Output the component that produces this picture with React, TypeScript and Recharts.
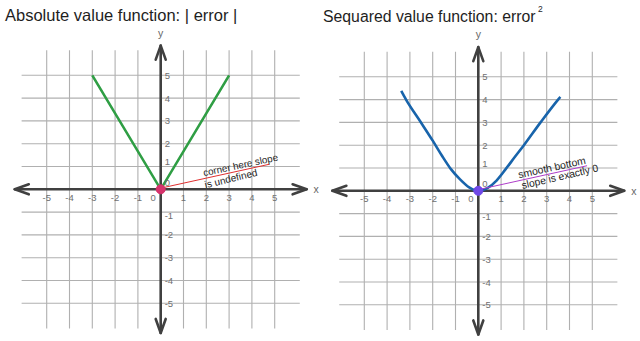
import React from 'react';
import { ComposedChart, Line, XAxis, YAxis, ReferenceLine, ReferenceDot } from 'recharts';

// tick values on both axes
const xTicks = [-5, -4, -3, -2, -1, 0, 1, 2, 3, 4, 5];
const yTicks = [-5, -4, -3, -2, -1, 0, 1, 2, 3, 4, 5];

// |error|
const absX = [-3, 0, 3];
const absY = [5, 0, 5];

// error^2 (hand drawn curve)
const sqX = [-3.38, -3.17, -2.55, -2, -1.6, -1.2, -0.8, -0.4, 0, 0.4, 0.8, 1.2, 1.6, 2, 2.73, 3.5, 3.6];
const sqY = [4.38, 4, 3.05, 2.2, 1.55, 0.95, 0.5, 0.15, 0, 0.12, 0.45, 0.95, 1.48, 2, 3, 4, 4.12];

const absData = absX.map((x, i) => ({ x, y: absY[i] }));
const sqData = sqX.map((x, i) => ({ x, y: sqY[i] }));

const UNIT = 22.8;
const W = 320;
const H = 341;
const FONT = '"Liberation Sans", Arial, sans-serif';
const GRID = '#b0b0b0';
const AXIS = '#404040';
const TICK = '#707070';

const ArrowAxis = (p: any) => {
  const { x1, y1, x2, y2 } = p;
  const dx = x2 - x1;
  const dy = y2 - y1;
  const len = Math.hypot(dx, dy) || 1;
  const ux = dx / len;
  const uy = dy / len;
  const px = -uy;
  const py = ux;
  const L = 14;
  const hw = 5;
  const head = (tx: number, ty: number, s: number) =>
    `M${tx - s * ux * L + px * hw},${ty - s * uy * L + py * hw} L${tx},${ty} L${tx - s * ux * L - px * hw},${ty - s * uy * L - py * hw}`;
  return (
    <g stroke={AXIS} strokeWidth={2.6} fill="none" strokeLinecap="round" strokeLinejoin="round">
      <line x1={x1} y1={y1} x2={x2} y2={y2} />
      <path d={head(x2, y2, 1)} />
      <path d={head(x1, y1, -1)} />
    </g>
  );
};

const textShape =
  (text: string, opts: { dx?: number; dy?: number; anchor?: string; size?: number; fill?: string; angle?: number }) =>
  (p: any) => {
    const x = p.cx + (opts.dx || 0);
    const y = p.cy + (opts.dy || 0);
    return (
      <text
        x={x}
        y={y}
        textAnchor={opts.anchor || 'middle'}
        dominantBaseline="central"
        fontFamily={FONT}
        fontSize={opts.size || 9}
        fill={opts.fill || TICK}
        transform={opts.angle ? `rotate(${opts.angle} ${x} ${y})` : undefined}
      >
        {text}
      </text>
    );
  };

const yLabelShift: Record<number, number> = { 1: -5, [-1]: 3 };

interface PanelProps {
  left: number;
  cx: number;
  cy: number;
  data: { x: number; y: number }[];
  color: string;
  curve: 'linear' | 'monotone';
  dotColor: string;
  noteColor: string;
  notes: { text: string; x: number; y: number; angle: number; size: number }[];
}

function Panel({ left, cx, cy, data, color, curve, dotColor, noteColor, notes }: PanelProps) {
  const mLeft = cx - 6.5 * UNIT;
  const mTop = cy - 6.5 * UNIT;
  const margin = {
    left: mLeft,
    right: W - mLeft - 13 * UNIT,
    top: mTop,
    bottom: H - mTop - 13.05 * UNIT,
  };
  return (
    <div style={{ position: 'absolute', left, top: 0 }}>
      <ComposedChart width={W} height={H} data={data} margin={margin}>
        <XAxis type="number" dataKey="x" domain={[-6.5, 6.5]} allowDataOverflow hide />
        <YAxis type="number" domain={[-6.55, 6.5]} allowDataOverflow hide />
        {xTicks.map((k) => (
          <ReferenceLine
            key={`gx${k}`}
            segment={[{ x: k, y: -6.1 }, { x: k, y: 6.1 }]}
            stroke={GRID}
            strokeWidth={1.1}
          />
        ))}
        {yTicks.map((k) => (
          <ReferenceLine
            key={`gy${k}`}
            segment={[{ x: -6.1, y: k }, { x: 6.1, y: k }]}
            stroke={GRID}
            strokeWidth={1.1}
          />
        ))}
        <ReferenceLine segment={[{ x: -6.4, y: 0 }, { x: 6.4, y: 0 }]} shape={ArrowAxis} />
        <ReferenceLine segment={[{ x: 0, y: -6.3 }, { x: 0, y: 6.3 }]} shape={ArrowAxis} />
        {xTicks.map((k) => (
          <ReferenceDot
            key={`tx${k}`}
            x={k}
            y={0}
            shape={textShape(String(k), { dx: k === 0 ? -7.5 : 0, dy: 8, size: 9.5 })}
          />
        ))}
        {yTicks
          .filter((k) => k !== 0)
          .map((k) => (
            <ReferenceDot
              key={`ty${k}`}
              x={0}
              y={k}
              shape={textShape(String(k), { dx: 4, dy: yLabelShift[k] || 0, anchor: 'start', size: 9.5 })}
            />
          ))}
        <ReferenceDot x={0} y={0} shape={textShape('0', { dx: 4, dy: -7, anchor: 'start', size: 9.5 })} />
        <ReferenceDot x={0} y={6.3} shape={textShape('y', { dy: -13, size: 10.5, fill: '#666' })} />
        <ReferenceDot x={6.4} y={0} shape={textShape('x', { dx: 7, anchor: 'start', size: 10.5, fill: '#666' })} />
        <Line
          type={curve}
          dataKey="y"
          stroke={color}
          strokeWidth={2.6}
          dot={false}
          activeDot={false}
          isAnimationActive={false}
        />
        <ReferenceLine segment={[{ x: 0, y: 0.05 }, { x: 4.77, y: 1.1 }]} stroke={noteColor} strokeWidth={1} />
        {notes.map((n) => (
          <ReferenceDot
            key={n.text}
            x={n.x}
            y={n.y}
            shape={textShape(n.text, { size: n.size, fill: '#1e1e1e', angle: n.angle })}
          />
        ))}
        <ReferenceDot x={0} y={0} r={4.5} fill={dotColor} stroke={dotColor} strokeWidth={1} />
      </ComposedChart>
    </div>
  );
}

const absNotes = [
  { text: 'corner here slope', x: 3.5, y: 1.07, angle: -12, size: 9.8 },
  { text: 'is undefined', x: 3.08, y: 0.47, angle: -13.5, size: 10 },
];
const sqNotes = [
  { text: 'smooth bottom', x: 3.23, y: 1.02, angle: -12.3, size: 10.4 },
  { text: 'slope is exactly 0', x: 3.58, y: 0.62, angle: -13, size: 10.3 },
];

export default function App() {
  return (
    <div style={{ position: 'absolute', left: 0, top: 0, width: 640, height: 341, overflow: 'hidden', background: '#fff' }}>
      <Panel
        left={0}
        cx={160.7}
        cy={189.3}
        data={absData}
        color="#2f9e44"
        curve="linear"
        dotColor="#d6336c"
        noteColor="#e03131"
        notes={absNotes}
      />
      <Panel
        left={320}
        cx={158.3}
        cy={190.8}
        data={sqData}
        color="#1864ab"
        curve="monotone"
        dotColor="#7048e8"
        noteColor="#ae3ec9"
        notes={sqNotes}
      />
      <svg width={640} height={341} style={{ position: 'absolute', left: 0, top: 0, pointerEvents: 'none' }}>
        <text x={5} y={21} fontFamily={FONT} fontSize={16.5} fill="#1e1e1e">
          Absolute value function: | error |
        </text>
        <text x={323} y={22} fontFamily={FONT} fontSize={15.8} fill="#1e1e1e">
          Sequared value function: error
        </text>
        <text x={538} y={12} fontFamily={FONT} fontSize={8.5} fill="#1e1e1e">
          2
        </text>
      </svg>
    </div>
  );
}
